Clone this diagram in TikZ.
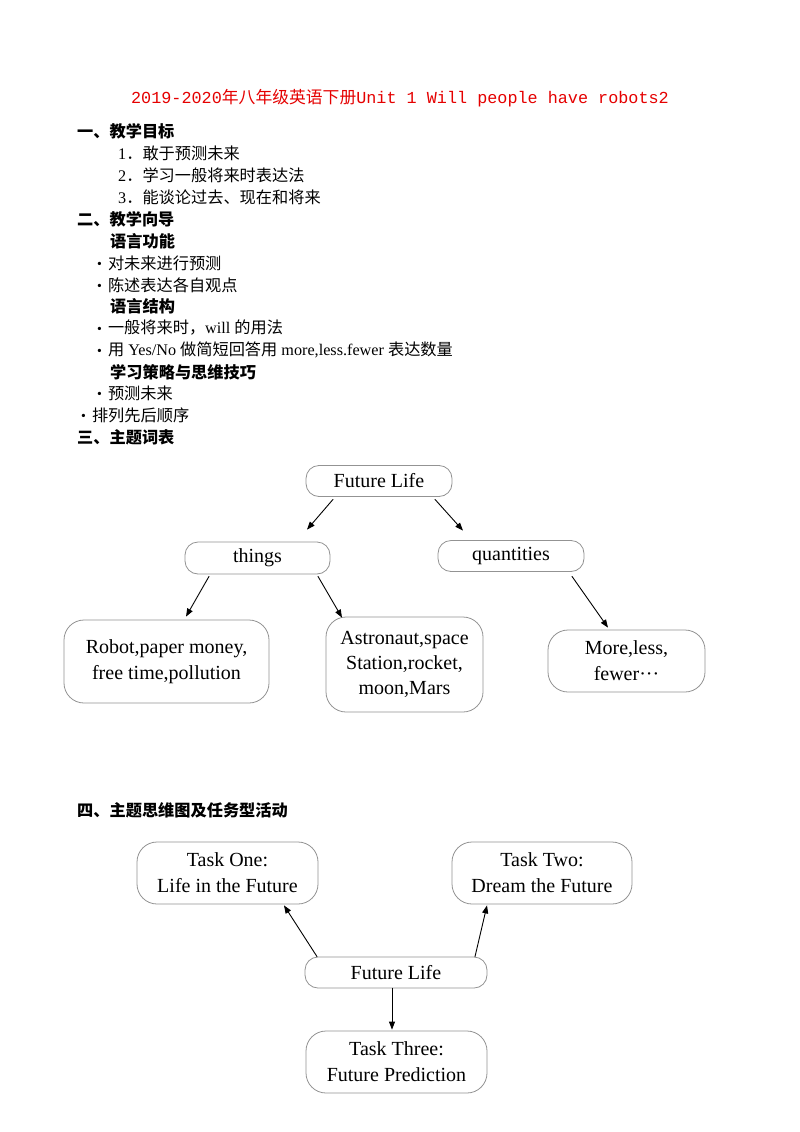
\documentclass[tikz,border=0pt]{standalone}
\usepackage{fontspec}
\setmainfont{Liberation Serif}
\newfontfamily\cjk{Noto Sans CJK SC}
\newfontfamily\titlemono{Liberation Mono}
\usepackage{tikz}
\usetikzlibrary{arrows,arrows.meta}
\newcommand\zh[1]{{\cjk #1}}
\newcommand\dotitem{\raisebox{0.5pt}{\scalebox{0.85}{\textbullet}}}
\tikzset{
  body/.style={anchor=west,inner sep=0pt,font=\fontsize{16.2}{19}\selectfont},
  head/.style={body,font=\fontsize{16.2}{19}\selectfont\cjk\bfseries},
  box/.style={draw=gray!85,line width=0.8pt,rounded corners=13pt,inner sep=0pt,align=center,font=\fontsize{20}{26}\selectfont},
  bigbox/.style={box,rounded corners=20pt}
}
\begin{document}
\begin{tikzpicture}[line cap=round,line join=round,>={Triangle[length=8pt,width=6pt]},x=1pt,y=-1pt]
\useasboundingbox[fill=white] (0,0) rectangle (800,1132);
\node[inner sep=0pt,text=red!90!black,font=\fontsize{16.8}{20}\selectfont\titlemono] (title) at (400,98) {2019-2020\zh{年八年级英语下册}Unit 1 Will people have robots2};
\node[head] (aim) at (77,131) {一、教学目标};
\node[body] (aim1) at (118,153) {1\zh{．敢于预测未来}};
\node[body] (aim2) at (118,175) {2\zh{．学习一般将来时表达法}};
\node[body] (aim3) at (118,197) {3\zh{．能谈论过去、现在和将来}};
\node[head] (guide) at (77,219) {二、教学向导};
\node[head] (func) at (110,241) {语言功能};
\node[body] (func1) at (97,263) {\dotitem\hspace{6pt}\zh{对未来进行预测}};
\node[body] (func2) at (97,285) {\dotitem\hspace{6pt}\zh{陈述表达各自观点}};
\node[head] (struct) at (110,306) {语言结构};
\node[body] (struct1) at (97,328) {\dotitem\hspace{6pt}\zh{一般将来时，}will \zh{的用法}};
\node[body] (struct2) at (97,350) {\dotitem\hspace{6pt}\zh{用} Yes/No \zh{做简短回答用} more,less.fewer \zh{表达数量}};
\node[head] (skill) at (110,372) {学习策略与思维技巧};
\node[body] (skill1) at (97,393) {\dotitem\hspace{6pt}\zh{预测未来}};
\node[body] (skill2) at (81,415) {\dotitem\hspace{6pt}\zh{排列先后顺序}};
\node[head] (words) at (77,437) {三、主题词表};
\node[head] (tasks) at (77,810) {四、主题思维图及任务型活动};
% word map
\node[box,minimum width=146pt,minimum height=31pt] (fl) at (379,481) {Future Life};
\node[box,minimum width=145pt,minimum height=32pt] (things) at (257.5,558) {things};
\node[box,minimum width=146pt,minimum height=31pt] (qty) at (511,556) {quantities};
\node[bigbox,minimum width=205pt,minimum height=83pt] (robot) at (166.5,661.5) {Robot,paper money,\\free time,pollution};
\node[bigbox,minimum width=157pt,minimum height=95pt,font=\fontsize{20}{25}\selectfont] (astro) at (404.5,664.5) {Astronaut,space\\Station,rocket,\\moon,Mars};
\node[bigbox,minimum width=157pt,minimum height=62pt] (more) at (626.5,661) {More,less,\\fewer···};
\draw[->,line width=0.9pt] ([shift={(-46,2.5)}]fl.south) -- ([shift={(49.5,-12)}]things.north);
\draw[->,line width=0.9pt] ([shift={(56,2.5)}]fl.south) -- ([shift={(-48,-9.5)}]qty.north);
\draw[->,line width=0.9pt] ([shift={(-48.5,2)}]things.south) -- ([shift={(19.5,-3)}]robot.north);
\draw[->,line width=0.9pt] ([shift={(60.5,2)}]things.south) -- ([shift={(-62.5,1)}]astro.north);
\draw[->,line width=0.9pt] ([shift={(61,4.5)}]qty.south) -- ([shift={(-18.5,-2)}]more.north);
% task map
\node[bigbox,minimum width=181pt,minimum height=62pt] (one) at (227.5,873) {Task One:\\Life in the Future};
\node[bigbox,minimum width=180pt,minimum height=62pt] (two) at (542,873) {Task Two:\\Dream the Future};
\node[box,minimum width=182pt,minimum height=31pt] (fl2) at (396,972.5) {Future Life};
\node[bigbox,minimum width=181pt,minimum height=62pt] (three) at (396.5,1062) {Task Three:\\Future Prediction};
\draw[->,line width=0.9pt] ([shift={(-79,0)}]fl2.north) -- ([shift={(56.5,1)}]one.south);
\draw[->,line width=0.9pt] ([shift={(79,0)}]fl2.north) -- ([shift={(-55,1)}]two.south);
\draw[->,line width=0.9pt] ([shift={(-4,0)}]fl2.south) -- ([shift={(-4.5,-1)}]three.north);
\end{tikzpicture}
\end{document}
